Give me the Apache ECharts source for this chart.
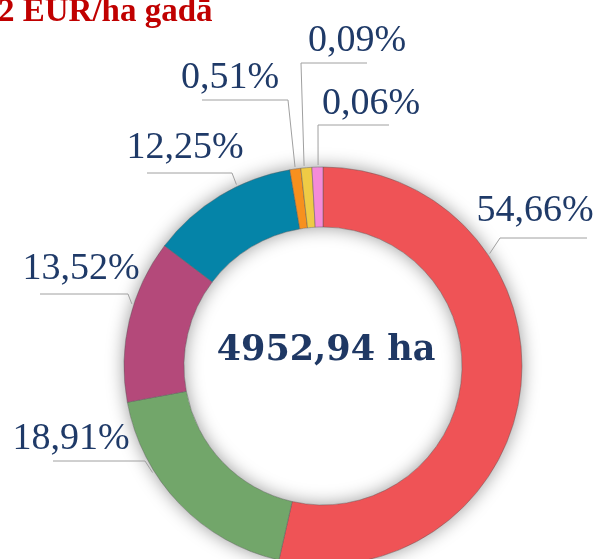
<!DOCTYPE html>
<html>
<head>
<meta charset="utf-8">
<script src="https://cdn.jsdelivr.net/npm/echarts@6/dist/echarts.min.js"></script>
<style>
html, body { margin: 0; padding: 0; background: #fff; }
#PieChartDom { width: 601px; height: 559px; }
</style>
</head>
<body>
<div id="PieChartDom"></div>
<script>
// data (shares in %)
const categories = ['Grupa 1', 'Grupa 2', 'Grupa 3', 'Grupa 4', 'Grupa 5', 'Grupa 6', 'Grupa 7'];
const shares = [54.66, 18.91, 13.52, 12.25, 0.51, 0.09, 0.06];
const colors = ['#ef5356', '#72a66a', '#b4497a', '#0584a8', '#f7901e', '#efcb45', '#f48bd9'];
const totalLabel = '4952,94 ha';
const titleText = '2 EUR/ha gadā';

// ring geometry
const cx = 323, cy = 366, innerR = 139, outerR = 199;

// where each percentage label sits (Excel style, text above its leader line)
const labelSpots = [
  { x: 535, y: 211, lineY: 238, elbow: 500, far: 587, angle: 56 },
  { x: 71, y: 439, lineY: 461, elbow: 145, far: 53, angle: 238 },
  { x: 81, y: 269, lineY: 294, elbow: 128, far: 40, angle: 288 },
  { x: 185, y: 148, lineY: 173, elbow: 232, far: 147, angle: 334.5 },
  { x: 230, y: 78, lineY: 100, elbow: 288, far: 202, angle: 352 },
  { x: 357, y: 41, lineY: 63, elbow: 301, far: 367, angle: 354.6 },
  { x: 371, y: 104, lineY: 125, elbow: 318, far: 389, angle: 358.6 }
];

const fmt = v => v.toFixed(2).replace('.', ',') + '%';

const option = {
  animation: false,
  backgroundColor: '#ffffff',
  graphic: [
    {
      type: 'text',
      left: -2,
      top: -4,
      style: {
        text: titleText,
        fill: '#c00000',
        font: 'bold 33px "Liberation Serif"'
      }
    },
    {
      type: 'text',
      x: 326,
      y: 351,
      z: 10,
      style: {
        text: totalLabel,
        fill: '#1f3864',
        font: 'bold 35px "DejaVu Serif"',
        align: 'center',
        verticalAlign: 'middle'
      }
    }
  ],
  series: [
    {
      // soft shadow under the ring
      type: 'pie',
      silent: true,
      z: 1,
      center: [cx, cy],
      radius: [innerR, outerR],
      label: { show: false },
      labelLine: { show: false },
      emphasis: { disabled: true },
      itemStyle: {
        color: '#ffffff',
        shadowBlur: 18,
        shadowColor: 'rgba(0,0,0,0.4)'
      },
      data: [{ value: 1 }]
    },
    {
      type: 'pie',
      z: 2,
      center: [cx, cy],
      radius: [innerR, outerR],
      startAngle: 90,
      clockwise: true,
      minAngle: 3.2,
      avoidLabelOverlap: false,
      emphasis: { disabled: true },
      itemStyle: {
        borderColor: 'rgba(90,90,90,0.6)',
        borderWidth: 0.8
      },
      label: {
        show: true,
        position: 'outside',
        formatter: p => fmt(p.value),
        color: '#1f3a68',
        fontFamily: 'Liberation Serif',
        fontSize: 38
      },
      labelLine: {
        show: true,
        length: 10,
        length2: 10,
        lineStyle: { color: '#a0a0a0', width: 1 }
      },
      labelLayout: function (params) {
        const s = labelSpots[params.dataIndex];
        const a = s.angle * Math.PI / 180;
        const r = outerR + 2;
        const start = [cx + r * Math.sin(a), cy - r * Math.cos(a)];
        return {
          x: s.x,
          y: s.y,
          align: 'center',
          verticalAlign: 'middle',
          labelLinePoints: [start, [s.elbow, s.lineY], [s.far, s.lineY]]
        };
      },
      data: shares.map((v, i) => ({
        name: categories[i],
        value: v,
        itemStyle: { color: colors[i] }
      }))
    }
  ]
};

let myChart = null;
const initPieChart = () => {
  const chartDom = document.getElementById('PieChartDom');
  myChart = echarts.init(chartDom);
  myChart.setOption(option);
};
initPieChart();
</script>
</body>
</html>
